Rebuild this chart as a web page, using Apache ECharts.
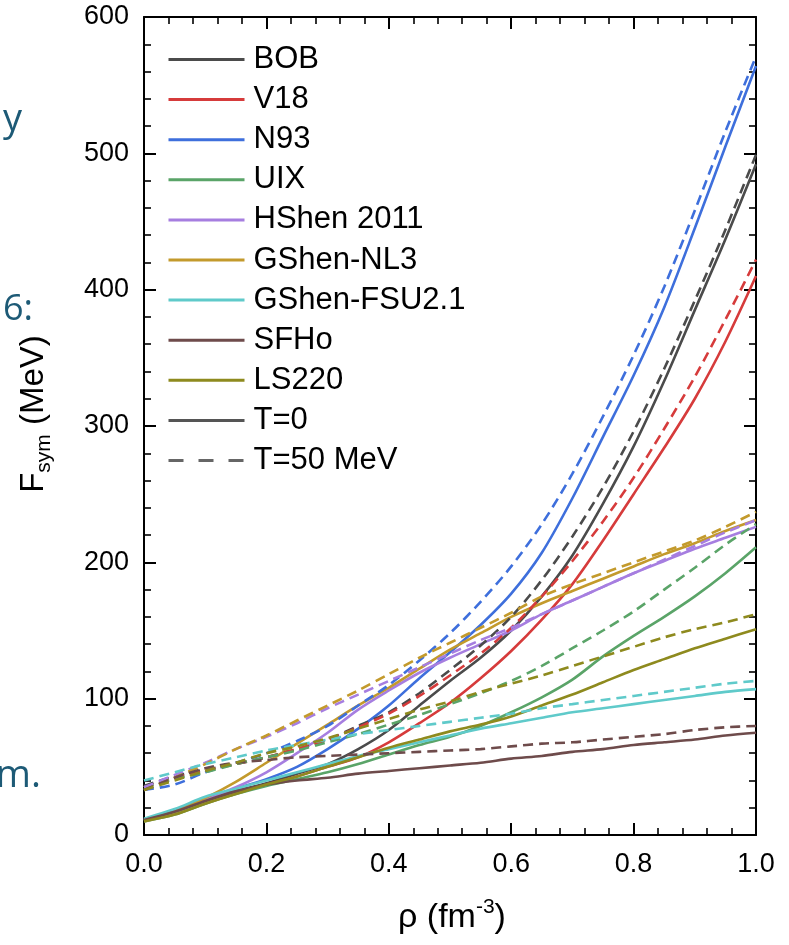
<!DOCTYPE html>
<html>
<head>
<meta charset="utf-8">
<script src="https://cdn.jsdelivr.net/npm/echarts@6/dist/echarts.min.js"></script>
<style>
html,body{margin:0;padding:0;background:#fff;}
#chart{width:789px;height:945px;}
</style>
</head>
<body>
<div id="chart"></div>
<script>
// density grid (fm^-3)
const rho = [0, 0.05, 0.1, 0.15, 0.2, 0.25, 0.3, 0.35, 0.4, 0.45, 0.5, 0.55, 0.6, 0.65, 0.7, 0.75, 0.8, 0.85, 0.9, 0.95, 1.0];

// F_sym (MeV): T=0 (solid) and T=50 MeV (dashed)
const bobT0    = [11, 17, 25, 32, 38, 45, 52, 63, 77, 95, 113, 130, 150, 175, 205, 243, 285, 333, 385, 437, 492];
const bobT50   = [36, 43, 48, 52, 57, 63, 70, 80, 90, 104, 121, 139, 160, 187, 219, 255, 296, 342, 392, 444, 499];
const v18T0    = [11, 17, 25, 31, 37, 43, 50, 57, 68, 82, 97, 115, 135, 158, 184, 216, 250, 284, 320, 362, 410];
const v18T50   = [35, 42, 47, 52, 57, 63, 70, 79, 89, 102, 117, 133, 152, 175, 201, 230, 262, 298, 336, 378, 422];
const n93T0    = [11, 18, 27, 34, 41, 50, 63, 78, 95, 115, 134, 154, 177, 207, 247, 292, 337, 387, 445, 505, 564];
const n93T50   = [33, 37, 46, 53, 60, 69, 80, 95, 110, 128, 148, 171, 197, 228, 265, 307, 352, 402, 458, 516, 571];
const uixT0    = [10, 15, 23, 30, 36, 41, 46, 52, 59, 66, 72, 80, 90, 101, 114, 131, 146, 160, 175, 192, 211];
const uixT50   = [35, 41, 46, 52, 57, 62, 68, 74, 81, 88, 96, 104, 113, 124, 137, 150, 164, 180, 196, 213, 228];
const hshenT0  = [11, 17, 26, 35, 46, 60, 75, 92, 106, 119, 130, 140, 150, 162, 172, 182, 192, 201, 210, 218, 226];
const hshenT50 = [35, 44, 53, 63, 72, 82, 93, 103, 113, 123, 133, 143, 152, 162, 172, 182, 192, 202, 212, 222, 231];
const nl3T0    = [11, 17, 27, 39, 53, 67, 81, 95, 108, 122, 136, 148, 160, 170, 179, 188, 197, 206, 214, 223, 231];
const nl3T50   = [33, 42, 52, 63, 73, 84, 95, 106, 118, 130, 141, 152, 163, 175, 184, 192, 200, 208, 216, 226, 237];
const fsuT0    = [12, 19, 28, 34, 40, 46, 52, 58, 63, 68, 73, 78, 82, 86, 90, 93, 96, 99, 102, 105, 107];
const fsuT50   = [40, 46, 52, 57, 62, 66, 70, 74, 77, 80, 83, 86, 89, 93, 96, 99, 102, 105, 108, 111, 113];
const sfhoT0   = [11, 17, 25, 32, 37, 40, 42, 45, 47, 49, 51, 53, 56, 58, 61, 63, 66, 68, 70, 73, 75];
const sfhoT50  = [33, 42, 49, 53, 55, 57, 58, 59, 60, 61, 62, 63, 65, 67, 68, 70, 72, 74, 77, 79, 80];
const ls220T0  = [10, 15, 23, 30, 37, 43, 50, 57, 64, 70, 76, 81, 87, 95, 103, 112, 121, 129, 137, 144, 151];
const ls220T50 = [33, 40, 47, 53, 60, 65, 71, 78, 85, 92, 98, 105, 111, 117, 124, 131, 138, 145, 151, 156, 162];

const modelNames = ['BOB', 'V18', 'N93', 'UIX', 'HShen 2011', 'GShen-NL3', 'GShen-FSU2.1', 'SFHo', 'LS220'];
const modelT0  = [bobT0, v18T0, n93T0, uixT0, hshenT0, nl3T0, fsuT0, sfhoT0, ls220T0];
const modelT50 = [bobT50, v18T50, n93T50, uixT50, hshenT50, nl3T50, fsuT50, sfhoT50, ls220T50];
const modelColors = ['#4b4b4b', '#d63b3b', '#3e6fdc', '#5aa468', '#a67ee0', '#c39a2c', '#5fcaca', '#6e4b4b', '#8e8a1e'];
const styleNames = ['T=0', 'T=50 MeV'];

const xTicks = [0, 0.2, 0.4, 0.6, 0.8, 1.0];
const yTicks = [0, 100, 200, 300, 400, 500, 600];

const FONT = '"Liberation Sans", Arial, Helvetica, sans-serif';

function pairs(vals) { return rho.map((r, i) => [r, vals[i]]); }

const series = [];
modelNames.forEach((name, k) => {
  series.push({
    name: name, type: 'line', data: pairs(modelT0[k]), xAxisIndex: 0, yAxisIndex: 0,
    symbol: 'none', smooth: 0.3, color: modelColors[k],
    lineStyle: { width: 2.6, type: 'solid', color: modelColors[k] }, z: 3
  });
});
modelNames.forEach((name, k) => {
  series.push({
    name: name, type: 'line', data: pairs(modelT50[k]), xAxisIndex: 0, yAxisIndex: 0,
    symbol: 'none', smooth: 0.3, color: modelColors[k],
    lineStyle: { width: 2.6, type: [10, 6], color: modelColors[k] }, z: 3
  });
});
series.push({ name: styleNames[0], type: 'line', data: [], symbol: 'none', color: '#555555',
  lineStyle: { width: 3, type: 'solid', color: '#555555' } });
series.push({ name: styleNames[1], type: 'line', data: [], symbol: 'none', color: '#666666',
  lineStyle: { width: 3, type: [15, 15], color: '#666666' } });

const axisCommonX = {
  type: 'value', min: xTicks[0], max: xTicks[xTicks.length - 1], interval: 0.2,
  axisLine: { show: true, onZero: false, lineStyle: { color: '#000', width: 2 } },
  axisTick: { show: true, inside: true, length: 12, lineStyle: { color: '#000', width: 2 } },
  minorTick: { show: true, splitNumber: 5, length: 7, lineStyle: { color: '#000', width: 1.6 } },
  splitLine: { show: false }
};
const axisCommonY = {
  type: 'value', min: yTicks[0], max: yTicks[yTicks.length - 1], interval: 100,
  axisLine: { show: true, onZero: false, lineStyle: { color: '#000', width: 2 } },
  axisTick: { show: true, inside: true, length: 12, lineStyle: { color: '#000', width: 2 } },
  minorTick: { show: true, splitNumber: 5, length: 7, lineStyle: { color: '#000', width: 1.6 } },
  splitLine: { show: false }
};

const option = {
  animation: false,
  backgroundColor: '#ffffff',
  grid: { left: 144, right: 33, top: 17, bottom: 110 },
  xAxis: [
    Object.assign({}, axisCommonX, { position: 'bottom',
      axisLabel: { show: true, margin: 16, fontSize: 27, color: '#000', fontFamily: FONT,
        formatter: v => v.toFixed(1) } }),
    Object.assign({}, axisCommonX, { position: 'top', axisLabel: { show: false } })
  ],
  yAxis: [
    Object.assign({}, axisCommonY, { position: 'left',
      axisLabel: { show: true, margin: 15, fontSize: 27, color: '#000', fontFamily: FONT } }),
    Object.assign({}, axisCommonY, { position: 'right', axisLabel: { show: false } })
  ],
  legend: {
    data: modelNames.concat(styleNames),
    orient: 'vertical', left: 167, top: 44, padding: 0,
    itemWidth: 76, itemHeight: 14, itemGap: 9.1,
    selectedMode: false,
    itemStyle: { opacity: 0, borderWidth: 0 },
    lineStyle: { width: 3 },
    textStyle: { fontSize: 31, lineHeight: 31, color: '#000', fontFamily: FONT, padding: [0, 0, 0, 4] }
  },
  graphic: [
    { type: 'text', x: 22, y: 120, z: 1, style: { text: 'y', fontSize: 38, fontFamily: '"Open Sans", sans-serif', fill: '#1d5a76', align: 'right', verticalAlign: 'middle' } },
    { type: 'text', x: 33, y: 310, z: 1, style: { text: '6:', fontSize: 36, fontFamily: '"Open Sans", sans-serif', fill: '#1d5a76', align: 'right', verticalAlign: 'middle' } },
    { type: 'text', x: 41, y: 776, z: 1, style: { text: 'm.', fontSize: 38, fontFamily: '"Open Sans", sans-serif', fill: '#1d5a76', align: 'right', verticalAlign: 'middle' } },
    { type: 'text', x: 34, y: 414, rotation: Math.PI / 2, z: 2,
      style: { text: '{a|F}{b|sym}{a| (MeV)}', align: 'center', verticalAlign: 'middle', fill: '#000',
        rich: {
          a: { fontSize: 33, fontFamily: FONT, fill: '#000', lineHeight: 42 },
          b: { fontSize: 21, fontFamily: FONT, fill: '#000', verticalAlign: 'bottom', lineHeight: 21 }
        } } },
    { type: 'text', x: 452, y: 918, z: 2,
      style: { text: '{a|ρ (fm}{b|-3}{a|)}', align: 'center', verticalAlign: 'middle', fill: '#000',
        rich: {
          a: { fontSize: 34, fontFamily: FONT, fill: '#000', lineHeight: 42 },
          b: { fontSize: 21, fontFamily: FONT, fill: '#000', verticalAlign: 'top', lineHeight: 21 }
        } } }
  ],
  series: series
};

const chart = echarts.init(document.getElementById('chart'), null, { renderer: 'canvas' });
chart.setOption(option);
</script>
</body>
</html>
